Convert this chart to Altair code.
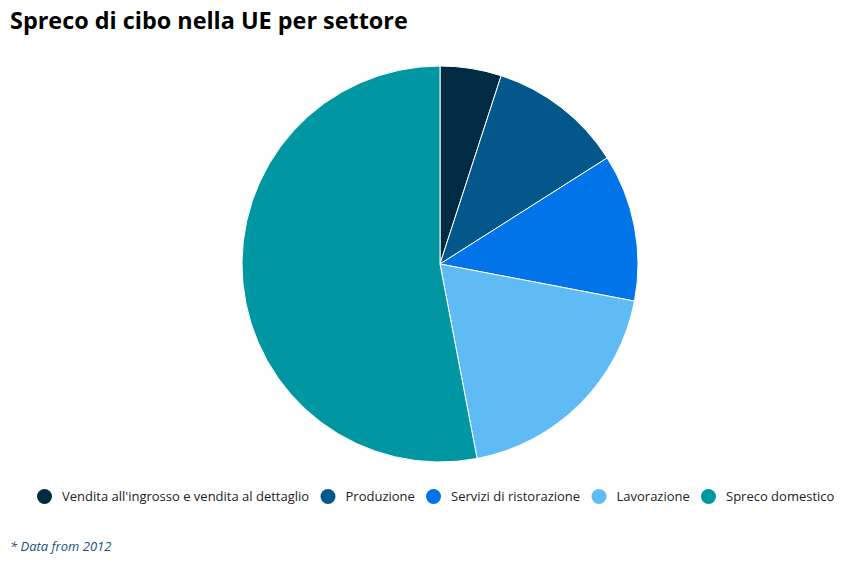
import altair as alt
import pandas as pd

categories = [
    "Vendita all'ingrosso e vendita al dettaglio",
    "Produzione",
    "Servizi di ristorazione",
    "Lavorazione",
    "Spreco domestico",
]
values = [5, 11, 12, 19, 53]
colors = ["#012b43", "#03578a", "#0074e8", "#5ebbf3", "#0096a2"]

title_text = "Spreco di cibo nella UE per settore"
note_text = "* Data from 2012"

df = pd.DataFrame({"settore": categories, "valore": values, "ordine": list(range(len(values)))})

TOP = 18  # top padding of the chart

pie = alt.Chart(df).mark_arc(radius=198, stroke="white", strokeWidth=1).encode(
    theta=alt.Theta("valore:Q", stack=True),
    order=alt.Order("ordine:Q"),
    color=alt.Color(
        "settore:N",
        scale=alt.Scale(domain=categories, range=colors),
        legend=alt.Legend(
            title=None,
            orient="none",
            legendX=29,
            legendY=481 - TOP,
            direction="horizontal",
            symbolType="circle",
            symbolSize=225,
            symbolStrokeWidth=0,
            labelFont="Open Sans",
            labelFontSize=13,
            labelColor="#222222",
            labelOffset=10,
            columnPadding=10.5,
            labelLimit=400,
        ),
    ),
    x=alt.value(432),
    y=alt.value(256 - TOP),
)

title = alt.Chart(pd.DataFrame({"t": [title_text]})).mark_text(
    font="Open Sans", fontSize=23.4, fontWeight="bold", align="left", baseline="alphabetic", color="#000000"
).encode(text="t:N", x=alt.value(2), y=alt.value(21 - TOP))

note = alt.Chart(pd.DataFrame({"t": [note_text]})).mark_text(
    font="Open Sans", fontSize=13, fontStyle="italic", align="left", baseline="alphabetic", color="#1a4f80"
).encode(text="t:N", x=alt.value(2), y=alt.value(543 - TOP))

chart = alt.layer(pie, title, note).properties(
    width=827,
    height=546 - TOP,
    autosize=alt.AutoSizeParams(type="none"),
    padding={"left": 0, "top": TOP, "right": 0, "bottom": 0},
).configure_view(stroke=None)

chart.save("out.html", embed_options={"renderer": "svg", "actions": False})
